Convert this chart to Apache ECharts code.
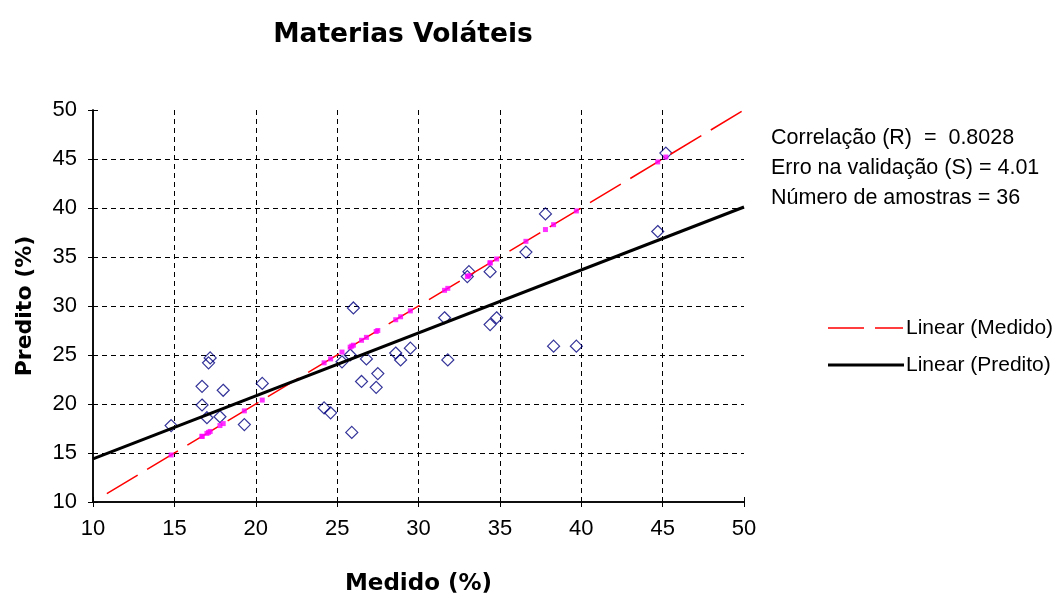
<!DOCTYPE html>
<html>
<head>
<meta charset="utf-8">
<script src="https://cdn.jsdelivr.net/npm/echarts@6/dist/echarts.min.js"></script>
<style>
  html, body { margin: 0; padding: 0; background: #fff; }
  #chart { width: 1058px; height: 601px; }
</style>
</head>
<body>
<div id="chart"></div>
<script>
// Measured (x) and predicted (y) volatile matter, in %
const medido = [14.8, 16.7, 16.7, 17.0, 17.2, 17.1, 17.8, 18.0, 19.3, 20.4,
                24.2, 24.6, 25.3, 25.8, 25.9, 26.0, 26.5, 26.8, 27.4, 27.5,
                28.6, 28.9, 29.5, 31.6, 31.8, 33.0, 33.1, 34.4, 34.4, 34.8,
                36.6, 37.8, 38.3, 39.7, 44.7, 45.2];
const predito = [17.8, 19.9, 21.8, 18.6, 24.7, 24.2, 18.7, 21.4, 17.9, 22.1,
                 19.6, 19.1, 24.3, 25.0, 17.1, 29.8, 22.3, 24.6, 21.7, 23.1,
                 25.2, 24.5, 25.7, 28.8, 24.5, 33.0, 33.5, 33.5, 28.1, 28.8,
                 35.5, 39.4, 25.9, 25.9, 37.6, 45.6];

// Trendline end points [x, y]
const trendMedido = [[10.85, 10.85], [50, 50]];
const trendPredito = [[10, 14.4], [50, 40.1]];

// Axis ticks
const axisMin = 10, axisMax = 50, axisStep = 5;

// Statistics shown beside the plot
const statLines = [
  'Correlação (R)  =  0.8028',
  'Erro na validação (S) = 4.01',
  'Número de amostras = 36'
];

// Legend entries
const legendNames = ['Linear (Medido)', 'Linear (Predito)'];

const FONT = "'Liberation Sans', Arial, sans-serif";
const BOLD_FONT = "'DejaVu Sans', 'Liberation Sans', sans-serif";

const scatterPts = medido.map((x, i) => [x, predito[i]]);
const medidoPts = medido.map(x => [x, x]);

const gridBox = { left: 93, right: 314, top: 110, bottom: 99 };

function valueAxis(extra) {
  return Object.assign({
    type: 'value',
    min: axisMin,
    max: axisMax,
    interval: axisStep,
    axisLine: { show: true, onZero: false, lineStyle: { color: '#000', width: 1.5 } },
    axisTick: { show: true, length: 5, lineStyle: { color: '#000', width: 1 } },
    axisLabel: { color: '#000', fontFamily: FONT, fontSize: 22 },
    splitLine: {
      show: true, showMinLine: false, showMaxLine: false,
      lineStyle: { color: '#000', width: 1, type: [5, 4] }
    }
  }, extra);
}

const chart = echarts.init(document.getElementById('chart'), null, { renderer: 'canvas' });

chart.setOption({
  backgroundColor: '#fff',
  animation: false,
  title: {
    text: 'Materias Voláteis',
    left: 398, top: 17, textAlign: 'center',
    textStyle: { fontFamily: BOLD_FONT, fontSize: 26.5, fontWeight: 'bold', color: '#000' }
  },
  grid: gridBox,
  xAxis: [
    valueAxis({
      name: 'Medido (%)', nameLocation: 'middle', nameGap: 71,
      nameTextStyle: { fontFamily: BOLD_FONT, fontSize: 23, fontWeight: 'bold', color: '#000' },
      axisLabel: { color: '#000', fontFamily: FONT, fontSize: 22, margin: 16 }
    }),
    // inner half of the crossing tick marks
    valueAxis({
      position: 'bottom', axisLabel: { show: false }, splitLine: { show: false },
      axisTick: { show: true, inside: true, length: 5, lineStyle: { color: '#000', width: 1 } }
    })
  ],
  yAxis: [
    valueAxis({
      name: 'Predito (%)', nameLocation: 'middle', nameGap: 57, nameRotate: 90,
      nameTextStyle: { fontFamily: BOLD_FONT, fontSize: 22, fontWeight: 'bold', color: '#000' },
      axisLabel: { color: '#000', fontFamily: FONT, fontSize: 22, margin: 16 }
    }),
    valueAxis({
      position: 'left', axisLabel: { show: false }, splitLine: { show: false },
      axisTick: { show: true, inside: true, length: 5, lineStyle: { color: '#000', width: 1 } }
    })
  ],
  series: [
    {
      name: 'Predito',
      type: 'scatter',
      data: scatterPts,
      symbol: 'diamond',
      symbolSize: 12,
      itemStyle: { color: 'rgba(255,255,255,0)', borderColor: '#000080', borderWidth: 1.2 },
      z: 2
    },
    {
      name: legendNames[0],
      type: 'line',
      data: trendMedido,
      symbol: 'none',
      lineStyle: { color: '#ff0000', width: 1.5, type: [36, 11] },
      z: 3
    },
    {
      name: 'Medido',
      type: 'scatter',
      data: medidoPts,
      symbol: 'rect',
      symbolSize: 5,
      itemStyle: { color: '#ff00ff' },
      z: 4
    },
    {
      name: legendNames[1],
      type: 'line',
      data: trendPredito,
      symbol: 'none',
      lineStyle: { color: '#000', width: 3 },
      z: 5
    }
  ],
  graphic: [
    ...statLines.map((t, i) => ({
      type: 'text',
      left: 771,
      top: 127 + i * 30,
      style: { text: t, fontFamily: FONT, fontSize: 21.5, fill: '#000' }
    })),
    // legend: line samples and labels
    {
      type: 'line',
      shape: { x1: 828, y1: 328, x2: 903, y2: 328 },
      style: { stroke: '#ff0000', lineWidth: 1.5, lineDash: [36, 11] }
    },
    {
      type: 'line',
      shape: { x1: 828, y1: 365, x2: 904, y2: 365 },
      style: { stroke: '#000', lineWidth: 3 }
    },
    ...legendNames.map((t, i) => ({
      type: 'text',
      left: 906,
      top: 318 + i * 37,
      style: { text: t, fontFamily: FONT, fontSize: 21, fill: '#000' }
    }))
  ]
});
</script>
</body>
</html>
